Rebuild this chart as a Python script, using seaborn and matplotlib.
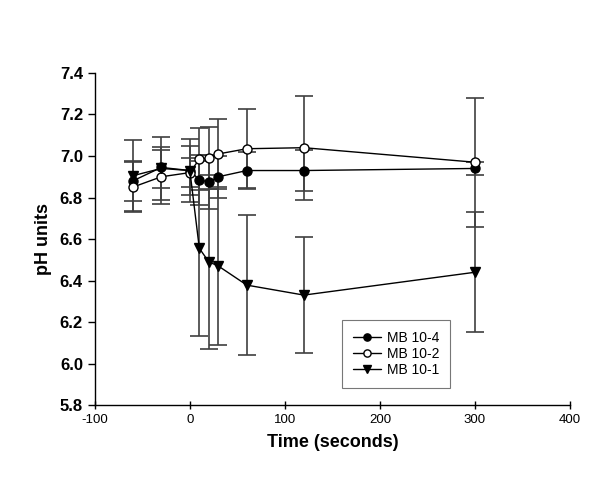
import matplotlib
matplotlib.use("Agg")
import matplotlib.pyplot as plt
import seaborn as sns
import pandas as pd
import numpy as np

# ---- data ----
time_s = [-60, -30, 0, 10, 20, 30, 60, 120, 300]
series_names = ["MB 10-4", "MB 10-2", "MB 10-1"]
mb10_4 = [6.88, 6.945, 6.93, 6.885, 6.875, 6.90, 6.93, 6.93, 6.94]
mb10_2 = [6.85, 6.90, 6.92, 6.985, 6.99, 7.01, 7.035, 7.04, 6.97]
mb10_1 = [6.905, 6.94, 6.93, 6.555, 6.49, 6.47, 6.378, 6.33, 6.44]
err10_4 = [0.095, 0.10, 0.12, 0.12, 0.13, 0.10, 0.09, 0.097, 0.03]
err10_2 = [0.12, 0.13, 0.07, 0.15, 0.15, 0.17, 0.19, 0.25, 0.31]
err10_1 = [0.17, 0.15, 0.15, 0.42, 0.42, 0.38, 0.338, 0.28, 0.29]
x_ticks = [-100, 0, 100, 200, 300, 400]
y_ticks = [5.8, 6.0, 6.2, 6.4, 6.6, 6.8, 7.0, 7.2, 7.4]

markers = ["o", "o", "v"]
faces = ["black", "white", "black"]

df = pd.DataFrame({
    "time": time_s * 3,
    "ph": mb10_4 + mb10_2 + mb10_1,
    "err": err10_4 + err10_2 + err10_1,
    "series": sum([[n] * len(time_s) for n in series_names], []),
})

sns.set_theme(style="ticks")
plt.rcParams["font.family"] = ["Liberation Sans", "DejaVu Sans"]
plt.rcParams["text.color"] = "black"
plt.rcParams["axes.labelcolor"] = "black"
plt.rcParams["xtick.color"] = "black"
plt.rcParams["ytick.color"] = "black"

fig = plt.figure(figsize=(6, 4.8), dpi=100)
ax = fig.add_axes([0.158, 0.156, 0.792, 0.692])

for name in series_names:
    sub = df[df["series"] == name]
    ax.errorbar(sub["time"], sub["ph"], yerr=sub["err"], fmt="none",
                ecolor="#404040", elinewidth=1.2, capsize=6.5, capthick=1.2, zorder=1)
for name, mk, fc in zip(series_names, markers, faces):
    sub = df[df["series"] == name]
    sns.lineplot(data=sub, x="time", y="ph", ax=ax, color="black", lw=1.0,
                 marker=mk, markersize=6.5 if mk == "o" else 7.5,
                 markerfacecolor=fc, markeredgecolor="black", markeredgewidth=1.0,
                 label=name, zorder=3, sort=False)

ax.set_xlim(-100, 400)
ax.set_ylim(5.8, 7.4)
ax.set_xticks(x_ticks)
ax.set_yticks(y_ticks)
ax.set_yticklabels([f"{v:.1f}" for v in y_ticks], fontsize=12, fontweight="bold")
ax.set_xticklabels([str(v) for v in x_ticks], fontsize=9.5)
ax.set_xlabel("Time (seconds)", fontsize=13, fontweight="bold", labelpad=6)
ax.set_ylabel("pH units", fontsize=13, fontweight="bold", labelpad=6)
sns.despine(ax=ax)
for s in ["left", "bottom"]:
    ax.spines[s].set_linewidth(1.0)
    ax.spines[s].set_color("black")
ax.tick_params(axis="y", direction="out", length=5, width=1, colors="black")
ax.tick_params(axis="x", direction="inout", length=6, width=1, colors="black")

leg = ax.legend(loc="lower left", bbox_to_anchor=(0.505, 0.03), frameon=True,
                fancybox=False, fontsize=10, handlelength=2.0, borderpad=0.8,
                labelspacing=0.15, handletextpad=0.45, markerscale=0.8)
leg.get_frame().set_edgecolor("#555555")
leg.get_frame().set_linewidth(0.8)

fig.savefig("out.png", dpi=100)
